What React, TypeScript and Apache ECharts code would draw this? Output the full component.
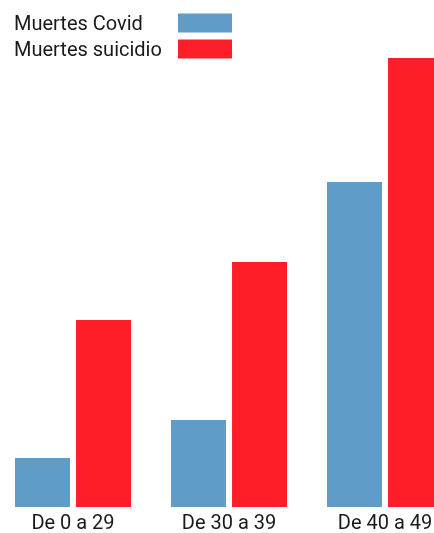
import React, { useEffect, useRef } from "react";
import * as echarts from "echarts";

const categories = ["De 0 a 29", "De 30 a 39", "De 40 a 49"];
const covid = [49, 87, 325];
const suicidio = [187, 245, 449];
const seriesNames = ["Muertes Covid", "Muertes suicidio"];
const colors = ["#5f9cc7", "#fe1e28"];

export default function App() {
  const ref = useRef<HTMLDivElement>(null);
  useEffect(() => {
    const chart = echarts.init(ref.current!, null, { renderer: "svg" });
    chart.setOption({
      animation: false,
      textStyle: { fontFamily: "Roboto" },
      legend: {
        orient: "vertical",
        left: 14,
        top: 13,
        align: "right",
        itemWidth: 54,
        itemHeight: 19,
        itemGap: 6,
        padding: 0,
        icon: "rect",
        formatter: (n: string) => "{a|" + n + "}",
        textStyle: {
          rich: {
            a: {
              width: 159,
              align: "left",
              fontSize: 20,
              lineHeight: 19,
              color: "#1a1a1a",
              fontFamily: "Roboto",
            },
          },
        },
        data: seriesNames,
      },
      grid: {
        left: -5,
        width: 468,
        top: 58,
        bottom: 26,
        containLabel: false,
        outerBoundsMode: "none",
      },
      xAxis: {
        type: "category",
        data: categories,
        axisLine: { show: false },
        axisTick: { show: false },
        axisLabel: { fontSize: 20, color: "#1a1a1a", margin: 5, fontFamily: "Roboto" },
      },
      yAxis: {
        type: "value",
        min: 0,
        max: 449,
        show: false,
        splitLine: { show: false },
      },
      series: [
        {
          name: seriesNames[0],
          type: "bar",
          data: covid,
          barWidth: 55,
          barGap: "11%",
          itemStyle: { color: colors[0] },
        },
        {
          name: seriesNames[1],
          type: "bar",
          data: suicidio,
          barWidth: 55,
          barGap: "11%",
          itemStyle: { color: colors[1] },
        },
      ],
    });
    return () => chart.dispose();
  }, []);
  return <div ref={ref} style={{ width: 434, height: 533, position: "fixed", left: 0, top: 0 }} />;
}
